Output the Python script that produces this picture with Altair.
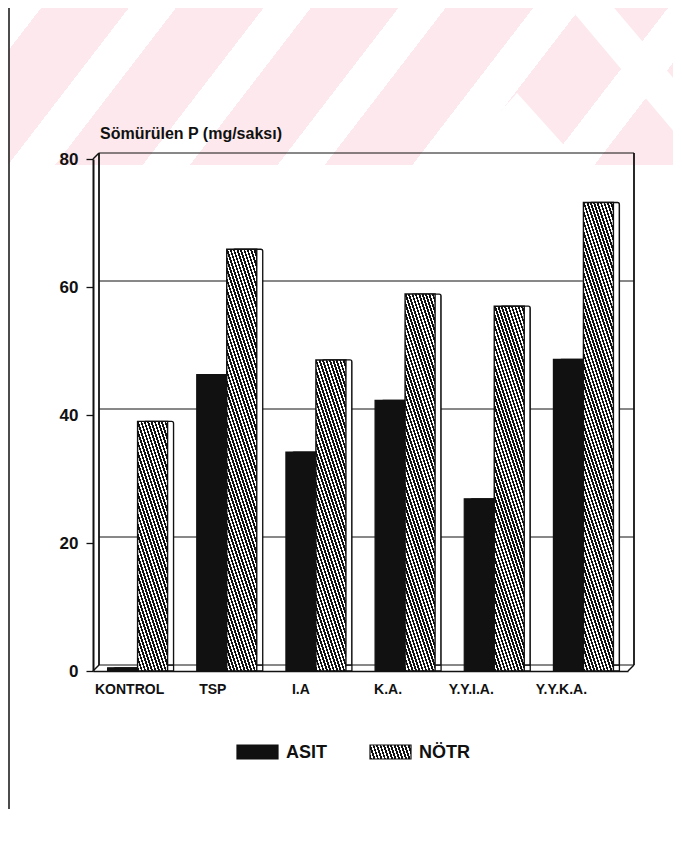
import altair as alt
import pandas as pd

# ---------------- data ----------------
categories = ["KONTROL", "TSP", "I.A", "K.A.", "Y.Y.I.A.", "Y.Y.K.A."]
series_names = ["ASIT", "NÖTR"]
asit_values = [0.5, 46.3, 34.2, 42.3, 26.9, 48.7]
notr_values = [39, 65.9, 48.6, 58.9, 57, 73.2]
y_tick_values = [0, 20, 40, 60, 80]
y_title = "Sömürülen P (mg/saksı)"

# ---------------- layout / style ----------------
W, H = 535, 512          # plot (front) area
D = 6                    # 3-D depth in px
BAR_W = 30
Y_MAX = max(y_tick_values)
PX_PER_UNIT = H / Y_MAX
FONT = "Liberation Sans"
INK = "#111111"
PINK = "#fde9ed"
label_dx = [-8, -14, -15, -17, -23, -22]   # x-label nudges (px)

df = pd.DataFrame({
    "category": categories * 2,
    "series": [series_names[0]] * len(categories) + [series_names[1]] * len(categories),
    "value": asit_values + notr_values,
})
cat_df = pd.DataFrame({"category": categories})
wall_df = pd.DataFrame({"v": y_tick_values})
edge_df = pd.DataFrame({"top": [max(y_tick_values)], "bottom": [min(y_tick_values)]})
one_df = pd.DataFrame({"k": [0]})
legend_df = pd.DataFrame({"series": series_names})


def stripes(w, h, slope, period_h, c_dark, c_light, dark_frac):
    """Linear gradient (bounding-box units) that looks like diagonal hatching."""
    sn = slope * w / h
    n = (sn, -1.0)
    corners = [(0, 0), (1, 0), (0, 1), (1, 1)]
    p = [cx * n[0] + cy * n[1] for cx, cy in corners]
    pmin, pmax = min(p), max(p)
    nn = n[0] ** 2 + n[1] ** 2
    x1, y1 = n[0] * pmin / nn, n[1] * pmin / nn
    x2, y2 = n[0] * pmax / nn, n[1] * pmax / nn
    count = max(1, round((pmax - pmin) / (abs(sn) * period_h / w)))
    stops = []
    for i in range(count):
        t0, tm, t1 = i / count, (i + dark_frac) / count, (i + 1) / count
        stops += [
            alt.GradientStop(offset=t0, color=c_dark),
            alt.GradientStop(offset=tm, color=c_dark),
            alt.GradientStop(offset=tm, color=c_light),
            alt.GradientStop(offset=t1, color=c_light),
        ]
    return alt.LinearGradient(gradient="linear", stops=stops, x1=x1, y1=y1, x2=x2, y2=y2)


x_scale = alt.Scale(domain=categories, paddingInner=0, paddingOuter=0)
y_scale = alt.Scale(domain=[0, Y_MAX], nice=False, zero=True)
x_axis = alt.Axis(
    title=None, orient="bottom", grid=False, ticks=False, labels=False,
    domain=True, domainColor=INK, domainWidth=1.6, zindex=1,
)
y_axis = alt.Axis(
    title=None, values=y_tick_values, grid=False, zindex=1,
    domain=True, domainColor=INK, domainWidth=2,
    ticks=True, tickColor=INK, tickSize=7, tickWidth=1.3,
    labelFont=FONT, labelFontSize=17, labelFontWeight="bold", labelColor=INK,
    labelPadding=8,
)


def X():
    return alt.X("category:N", scale=x_scale, axis=x_axis, sort=categories)


def Y(field="value"):
    return alt.Y(f"{field}:Q", scale=y_scale, axis=y_axis)


layers = []

# ---- watermark band at the top of the page ----
layers.append(
    alt.Chart(one_df).mark_rect(
        fill=stripes(682, 165, -1.3, 125, PINK, "#ffffff", 0.65), strokeWidth=0
    ).encode(x=alt.value(-93), x2=alt.value(589), y=alt.value(-159), y2=alt.value(6))
)
layers.append(
    alt.Chart(one_df).mark_point(
        shape="M0,-1L1.8,1L-1.8,1Z", size=5184, filled=True, fill="white", opacity=1, strokeWidth=0
    ).encode(x=alt.value(424), y=alt.value(-30))
)
layers.append(
    alt.Chart(one_df).mark_rule(color="white", strokeWidth=34).encode(
        x=alt.value(467), x2=alt.value(627), y=alt.value(-189), y2=alt.value(1)
    )
)

# ---- scan border lines ----
layers.append(
    alt.Chart(one_df).mark_rule(color=INK, strokeWidth=1.5).encode(
        x=alt.value(-84), y=alt.value(-159), y2=alt.value(650)
    )
)
layers.append(
    alt.Chart(one_df).mark_rule(color="#333333", strokeWidth=1, strokeDash=[14, 4, 3, 4]).encode(
        x=alt.value(-70), x2=alt.value(589), y=alt.value(-155)
    )
)

# ---- back wall: grid lines, top edge and floor back edge ----
layers.append(
    alt.Chart(wall_df).mark_rule(color=INK, strokeWidth=1, yOffset=-D).encode(
        y=Y("v"), x=alt.value(D), x2=alt.value(W + D)
    )
)
for xv in (D, W + D):
    layers.append(
        alt.Chart(edge_df).mark_rule(color=INK, strokeWidth=1.8, yOffset=-D, y2Offset=-D).encode(
            y=Y("top"), y2="bottom", x=alt.value(xv)
        )
    )
layers.append(
    alt.Chart(edge_df).mark_rule(color=INK, strokeWidth=1.4, y2Offset=-D).encode(
        y=Y("top"), y2="top", x=alt.value(0), x2=alt.value(D)
    )
)
for xv in (0, W):
    layers.append(
        alt.Chart(edge_df).mark_rule(color=INK, strokeWidth=1.4, y2Offset=-D).encode(
            y=Y("bottom"), y2="bottom", x=alt.value(xv), x2=alt.value(xv + D)
        )
    )

offsets = {series_names[0]: -BAR_W / 2, series_names[1]: BAR_W / 2}

# ---- 3-D depth faces (behind) ----
for s in series_names:
    layers.append(
        alt.Chart(df).transform_filter(alt.datum.series == s).mark_bar(
            width=BAR_W, xOffset=offsets[s] + D, x2Offset=offsets[s] + D,
            yOffset=-D, y2Offset=-D,
            fill="white", stroke=INK, strokeWidth=1.3, cornerRadiusTopLeft=2, cornerRadiusTopRight=2,
        ).encode(x=X(), y=Y())
    )

# ---- front faces: ASIT solid ----
layers.append(
    alt.Chart(df).transform_filter(alt.datum.series == series_names[0]).mark_bar(
        width=BAR_W, xOffset=offsets[series_names[0]], fill=INK, stroke=INK, strokeWidth=1.2,
    ).encode(x=X(), y=Y())
)
# ---- front faces: NÖTR hatched (one gradient per bar so the hatch is uniform) ----
for c, v in zip(categories, notr_values):
    hpx = max(v * PX_PER_UNIT, 2)
    layers.append(
        alt.Chart(df).transform_filter(
            (alt.datum.series == series_names[1]) & (alt.datum.category == c)
        ).mark_bar(
            width=BAR_W, xOffset=offsets[series_names[1]],
            fill=stripes(BAR_W, hpx, 3.0, 3.4, INK, "#ffffff", 0.55),
            stroke=INK, strokeWidth=1.4,
        ).encode(x=X(), y=Y())
    )

# ---- category labels ----
for c, dx in zip(categories, label_dx):
    layers.append(
        alt.Chart(cat_df).transform_filter(alt.datum.category == c).mark_text(
            align="center", baseline="middle", dx=dx, font=FONT, fontSize=14,
            fontWeight="bold", color=INK,
        ).encode(x=X(), y=alt.value(531), text="category:N")
    )

# ---- y-axis caption ----
layers.append(
    alt.Chart(one_df).mark_text(
        text=y_title, align="left", baseline="alphabetic", font=FONT,
        fontSize=16, fontWeight="bold", color=INK,
    ).encode(x=alt.value(7), y=alt.value(-20))
)

# ---- legend (drawn by hand to show the hatch) ----
legend_x = [144, 277]
for i, s in enumerate(series_names):
    fill = INK if i == 0 else stripes(41, 14, 3.0, 3.4, INK, "#ffffff", 0.55)
    layers.append(
        alt.Chart(legend_df).transform_filter(alt.datum.series == s).mark_rect(
            fill=fill, stroke=INK, strokeWidth=1.2
        ).encode(x=alt.value(legend_x[i]), x2=alt.value(legend_x[i] + 41),
                 y=alt.value(586), y2=alt.value(600))
    )
    layers.append(
        alt.Chart(legend_df).transform_filter(alt.datum.series == s).mark_text(
            align="left", baseline="middle", font=FONT, fontSize=18, fontWeight="bold", color=INK,
        ).encode(text="series:N", x=alt.value(legend_x[i] + 49), y=alt.value(594))
    )

chart = alt.layer(*layers).properties(
    width=W, height=H,
    autosize=alt.AutoSizeParams(type="none"),
    padding={"left": 85, "top": 151, "right": 45, "bottom": 170},
    background="white",
).configure_view(stroke=None)

chart.save("out.html", embed_options={"renderer": "svg", "actions": False})
